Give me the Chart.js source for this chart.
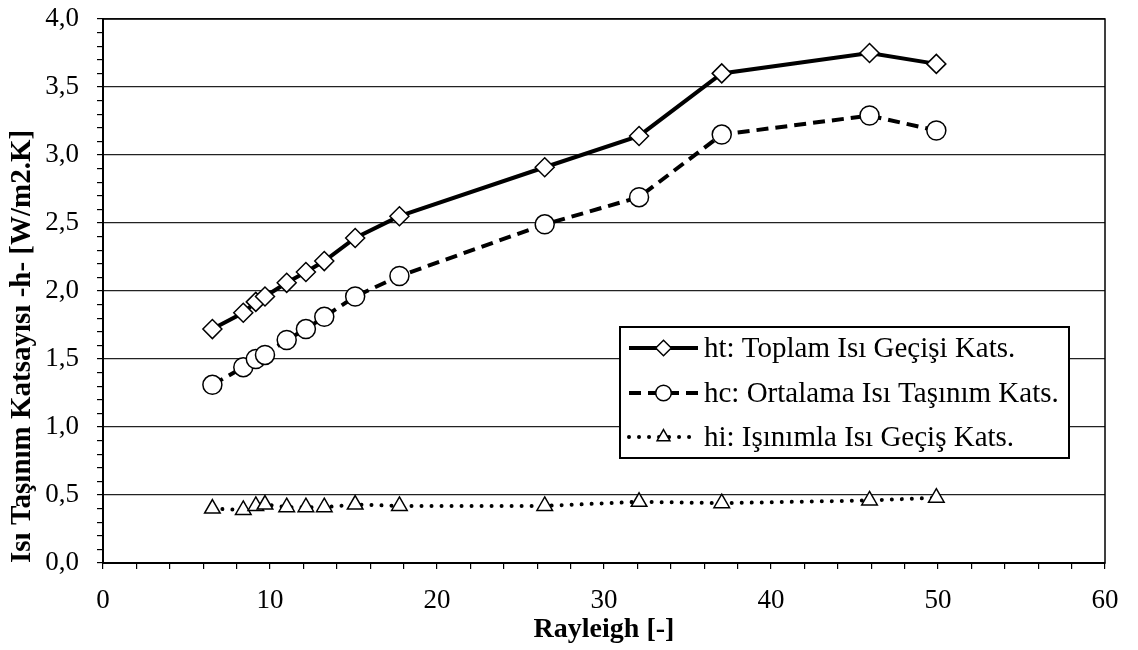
<!DOCTYPE html>
<html>
<head>
<meta charset="utf-8">
<script src="https://cdn.jsdelivr.net/npm/chart.js@4.4.1/dist/chart.umd.min.js"></script>
<style>
    html, body { margin: 0; padding: 0; background: #fff; }
    #wrap { width: 1138px; height: 650px; }
</style>
</head>
<body>
<div id="wrap"><canvas id="hChart" width="1138" height="650"></canvas></div>
<script>
// Rayleigh number for each measurement
const rayleigh = [6.55, 8.4, 9.15, 9.7, 11.0, 12.15, 13.25, 15.1, 17.75, 26.45, 32.1, 37.05, 45.9, 49.9];

// heat transfer coefficients [W/m2.K]
const htValues = [1.72, 1.84, 1.92, 1.96, 2.06, 2.14, 2.22, 2.39, 2.55, 2.91, 3.14, 3.60, 3.75, 3.67];
const hcValues = [1.31, 1.44, 1.50, 1.53, 1.64, 1.72, 1.81, 1.96, 2.11, 2.49, 2.69, 3.15, 3.29, 3.18];
const hiValues = [0.40, 0.39, 0.42, 0.43, 0.41, 0.41, 0.41, 0.43, 0.42, 0.42, 0.45, 0.44, 0.46, 0.48];

const seriesLabels = [
    'ht: Toplam Isı Geçişi Kats.',
    'hc: Ortalama Isı Taşınım Kats.',
    'hi: Işınımla Isı Geçiş Kats.'
];

const serif = "'Liberation Serif', 'Times New Roman', serif";

function toPoints(values) {
    return rayleigh.map((x, i) => ({ x: x, y: values[i] }));
}

function isHalfStep(v) {
    return Math.abs(v * 2 - Math.round(v * 2)) < 1e-6;
}

// black frame round the plot area
const frame = {
    id: 'frame',
    beforeDatasetsDraw(chart) {
        const a = chart.chartArea;
        const ctx = chart.ctx;
        ctx.save();
        ctx.strokeStyle = '#000';
        ctx.lineWidth = 1.5;
        ctx.strokeRect(a.left, a.top, a.right - a.left, a.bottom - a.top);
        ctx.restore();
    }
};

// boxed legend sitting inside the plot
const boxLegend = {
    id: 'boxLegend',
    afterDraw(chart) {
        const ctx = chart.ctx;
        const box = { x: 620, y: 327, w: 449, h: 131 };
        ctx.save();
        ctx.fillStyle = '#fff';
        ctx.fillRect(box.x, box.y, box.w, box.h);
        ctx.strokeStyle = '#000';
        ctx.lineWidth = 2;
        ctx.strokeRect(box.x, box.y, box.w, box.h);

        const rows = [348, 393, 437];
        chart.data.datasets.forEach((ds, i) => {
            const y = rows[i];
            ctx.save();
            ctx.strokeStyle = ds.borderColor;
            ctx.lineWidth = ds.borderWidth;
            ctx.lineCap = ds.borderCapStyle || 'butt';
            ctx.setLineDash(ds.borderDash || []);
            ctx.beginPath();
            ctx.moveTo(629, y);
            ctx.lineTo(698, y);
            ctx.stroke();
            ctx.restore();

            ctx.save();
            ctx.fillStyle = ds.pointBackgroundColor;
            ctx.strokeStyle = ds.pointBorderColor;
            ctx.lineWidth = ds.pointBorderWidth;
            Chart.helpers.drawPoint(ctx, {
                pointStyle: ds.pointStyle,
                rotation: 0,
                radius: ds.pointRadius * 0.82,
                borderWidth: ds.pointBorderWidth
            }, 663.5, y);
            ctx.restore();

            ctx.fillStyle = '#000';
            ctx.font = '29px ' + serif;
            ctx.textBaseline = 'middle';
            ctx.fillText(ds.label, 704, y + 1);
        });
        ctx.restore();
    }
};

const ctx = document.getElementById('hChart').getContext('2d');
new Chart(ctx, {
    type: 'scatter',
    data: {
        datasets: [
            {
                label: seriesLabels[0],
                data: toPoints(htValues),
                showLine: true,
                borderColor: '#000',
                borderWidth: 4,
                pointStyle: 'rectRot',
                pointRadius: 9.5,
                pointBackgroundColor: '#fff',
                pointBorderColor: '#000',
                pointBorderWidth: 1.5
            },
            {
                label: seriesLabels[1],
                data: toPoints(hcValues),
                showLine: true,
                borderColor: '#000',
                borderWidth: 4,
                borderDash: [12, 7],
                pointStyle: 'circle',
                pointRadius: 9.5,
                pointBackgroundColor: '#fff',
                pointBorderColor: '#000',
                pointBorderWidth: 1.5
            },
            {
                label: seriesLabels[2],
                data: toPoints(hiValues),
                showLine: true,
                borderColor: '#000',
                borderWidth: 4,
                borderDash: [0.01, 10],
                borderCapStyle: 'round',
                pointStyle: 'triangle',
                pointRadius: 9,
                pointBackgroundColor: '#fff',
                pointBorderColor: '#000',
                pointBorderWidth: 1.5
            }
        ]
    },
    options: {
        responsive: false,
        animation: false,
        devicePixelRatio: 1,
        layout: {
            padding: { left: 0, right: 33, top: 19, bottom: 0 }
        },
        scales: {
            x: {
                type: 'linear',
                min: 0,
                max: 60,
                ticks: {
                    stepSize: 2,
                    autoSkip: false,
                    maxRotation: 0,
                    padding: 16,
                    color: '#000',
                    font: { family: serif, size: 27 },
                    callback: function(value) {
                        return value % 10 === 0 ? String(value) : '';
                    }
                },
                grid: {
                    drawOnChartArea: false,
                    color: '#000',
                    tickLength: 6,
                    lineWidth: 1.2
                },
                border: { color: '#000', width: 2 },
                title: {
                    display: true,
                    text: 'Rayleigh [-]',
                    color: '#000',
                    font: { family: serif, size: 28, weight: 'bold' },
                    padding: { top: 0, bottom: 3 }
                },
                afterFit: function(scale) { scale.height = 87; }
            },
            y: {
                type: 'linear',
                min: 0,
                max: 4,
                ticks: {
                    stepSize: 0.1,
                    autoSkip: false,
                    padding: 18,
                    color: '#000',
                    font: { family: serif, size: 27 },
                    callback: function(value) {
                        return isHalfStep(value) ? value.toFixed(1).replace('.', ',') : '';
                    }
                },
                grid: {
                    color: function(c) {
                        return c.tick && isHalfStep(c.tick.value) ? '#222' : 'rgba(0,0,0,0)';
                    },
                    tickColor: '#000',
                    tickLength: 6,
                    lineWidth: 1.2
                },
                border: { color: '#000', width: 2 },
                title: {
                    display: true,
                    text: 'Isı Taşınım Katsayısı -h- [W/m2.K]',
                    align: 'start',
                    color: '#000',
                    font: { family: serif, size: 29, weight: 'bold' },
                    padding: { top: 5, bottom: 0 }
                },
                afterFit: function(scale) {
                    scale.width = 103;
                    // the top label has room in the layout padding already
                    scale.paddingTop = 0;
                    scale.paddingBottom = 0;
                }
            }
        },
        plugins: {
            legend: { display: false },
            tooltip: { enabled: false }
        }
    },
    plugins: [frame, boxLegend]
});
</script>
</body>
</html>
